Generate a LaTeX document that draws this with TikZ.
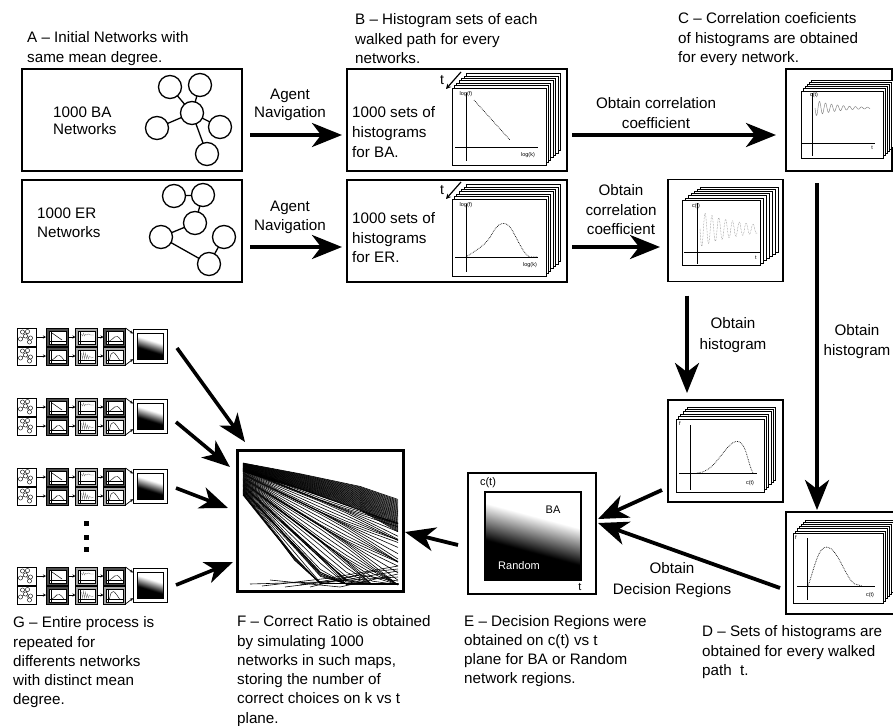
\documentclass[tikz,border=0pt]{standalone}
\usepackage{fontspec}
\setmainfont{Liberation Sans}
\usetikzlibrary{arrows.meta,calc}
\pgfdeclareverticalshading{decreg}{100bp}{color(0bp)=(black); color(41bp)=(black); color(61bp)=(white); color(100bp)=(white)}
\tikzset{
  mbox/.style={draw, line width=2pt, fill=white, inner sep=0pt, outer sep=0pt},
  bigarr/.style={line width=3.8pt, -{Stealth[length=30pt,width=24pt,inset=9pt]}},
  garr/.style={line width=3.6pt, -{Stealth[length=28pt,width=22pt,inset=8pt]}},
  panel/.style={draw, fill=white, line width=0.7pt},
  ax/.style={line width=0.9pt},
  dcurve/.style={densely dotted, line width=0.7pt},
  lbl/.style={font=\fontsize{15.2}{19.5}\selectfont, inner sep=0pt},
  tinyl/.style={font=\fontsize{5.5}{6}\selectfont, inner sep=0pt},
  smalll/.style={font=\fontsize{11}{13}\selectfont, inner sep=0pt},
  netc/.style={draw, fill=white, line width=1.3pt},
  nete/.style={line width=1.3pt},
  fline/.style={line width=0.6pt},
  tnet/.style={draw, fill=white, line width=0.8pt, minimum width=19pt, minimum height=18pt, inner sep=0pt, outer sep=0pt},
  thb/.style={draw, fill=black!70, line width=0.6pt, minimum width=22pt, minimum height=18pt, inner sep=0pt, outer sep=0pt},
  thc/.style={draw, fill=black!35, line width=0.6pt, minimum width=22pt, minimum height=18pt, inner sep=0pt, outer sep=0pt},
  the/.style={draw, fill=white, line width=0.6pt, minimum size=34pt, inner sep=0pt, outer sep=0pt},
  tarr/.style={line width=0.7pt, -{Stealth[length=3pt,width=3pt]}},
}
% stacked panels: x1 y1 x2 y2 n dx dy
\newcommand\hstack[7]{%
  \foreach \k in {#5,...,1}{%
    \draw[panel] ({#1+\k*#6},{#2-\k*#7}) rectangle ({#3+\k*#6},{#4-\k*#7});
  }%
  \draw[panel, line width=1pt] (#1,#2) rectangle (#3,#4);
}
\newcommand\minet{%
  \draw[line width=0.4pt] (-4,-5)--(-1,-1)--(-6,2) (-1,-1)--(4,1) (-1,-1)--(3,5) (1,-5.5)--(-1,-1);
  \foreach \a/\b in {-4/-5, 1/-5.5, -1/-1, -6/2, 4/1, 3/5}
    \draw[line width=0.4pt, fill=white] (\a,\b) circle[radius=2.1pt];
}
\newcommand\minipanel{%
  \draw[line width=0.4pt, fill=white] (-8,-6) rectangle (9,7);
  \draw[line width=0.5pt] (-6,-5)--(-6,7) (-8,4.5)--(9,4.5);
}
\newcommand\thumbrow[2]{%
  \node[tnet] (#1na) at (26.5,{#2+9}) {};
  \node[tnet] (#1nb) at (26.5,{#2+28}) {};
  \node[thb] (#1ba) at (57,{#2+9}) {};
  \node[thb] (#1bb) at (57,{#2+28}) {};
  \node[thc] (#1ca) at (86.5,{#2+9}) {};
  \node[thc] (#1cb) at (86.5,{#2+28}) {};
  \node[thb] (#1da) at (114.5,{#2+9}) {};
  \node[thc] (#1db) at (114.5,{#2+28}) {};
  \node[the] (#1e) at (150,{#2+18}) {};
  \begin{scope}[shift={(26.5,{#2+9})}]\minet\end{scope}
  \begin{scope}[shift={(26.5,{#2+28})}]\minet\end{scope}
  \begin{scope}[shift={(57,{#2+9})}]\minipanel
    \draw[line width=0.5pt] (-5,-4)--(5,3);\end{scope}
  \begin{scope}[shift={(57,{#2+28})}]\minipanel
    \draw[line width=0.4pt] (-5,4) .. controls (-1,3) and (0,-6) .. (7,4);\end{scope}
  \begin{scope}[shift={(86.5,{#2+9})}]\minipanel
    \draw[line width=0.3pt, gray] (-5,-3)--(-4,-1)--(-3,-4)--(-2,-1)--(-1,-3)--(0,-2)--(2,-3)--(4,-2)--(7,-2);\end{scope}
  \begin{scope}[shift={(86.5,{#2+28})}]\minipanel
    \draw[line width=0.3pt, gray] (-5,-3)--(-4,3)--(-3,-4)--(-2,3)--(-1,-3)--(0,3)--(1,-1)--(2,3)--(3,0)--(5,2)--(7,1);\end{scope}
  \begin{scope}[shift={(114.5,{#2+9})}]\minipanel
    \draw[line width=0.4pt] (-5,4) .. controls (-1,3) and (1,-6) .. (7,4);\end{scope}
  \begin{scope}[shift={(114.5,{#2+28})}]\minipanel
    \draw[line width=0.4pt] (-5,4) .. controls (-3,-8) and (0,-4) .. (5,4);\end{scope}
  \begin{scope}[shift={(150,{#2+18})}]
    \shade[shading=decreg, shading angle=-17] (-13,-13) rectangle (13,13);
    \draw[line width=0.9pt] (-13,-13) rectangle (13,13);
  \end{scope}
  \draw[tarr] (#1na) -- (#1ba);
  \draw[tarr] (#1nb) -- (#1bb);
  \draw[tarr] (#1ba) -- (#1ca);
  \draw[tarr] (#1bb) -- (#1cb);
  \draw[tarr] (#1ca) -- (#1da);
  \draw[tarr] (#1cb) -- (#1db);
  \draw[tarr] (#1da.north east) -- (#1e);
  \draw[tarr] (#1db.south east) -- (#1e);
}
\begin{document}
\begin{tikzpicture}[x=1pt,y=-1pt]
\useasboundingbox (0,0) rectangle (893,725);
\clip (0,0) rectangle (893,725);
\fill[white] (0,0) rectangle (893,725);

% ---------- main boxes
\node[mbox, minimum width=220pt, minimum height=102pt] (aBA) at (132,120) {};
\node[mbox, minimum width=220pt, minimum height=102pt] (aER) at (132,230.5) {};
\node[mbox, minimum width=220pt, minimum height=102pt] (bBA) at (457,120) {};
\node[mbox, minimum width=220pt, minimum height=102pt] (bER) at (457,230.5) {};
\node[mbox, line width=1.5pt, minimum width=106pt, minimum height=102pt] (cBA) at (839,120) {};
\node[mbox, line width=1.5pt, minimum width=115pt, minimum height=102pt] (cER) at (725.5,230.5) {};
\node[mbox, line width=1.5pt, minimum width=115pt, minimum height=102pt] (mid) at (725.5,451) {};
\node[mbox, line width=1.5pt, minimum width=120pt, minimum height=102pt] (dBox) at (846,563) {};
\node[mbox, line width=1.5pt, minimum width=128pt, minimum height=121pt] (eBox) at (532,533.5) {};
\node[mbox, line width=3pt, minimum width=166pt, minimum height=141pt] (fBox) at (320,520.5) {};

% ---------- A networks
\draw[nete] (170,87)--(192,113) (200,85)--(192,113) (192,113)--(157,128) (192,113)--(220,127) (192,113)--(207,154);
\foreach \a/\b in {170/87, 200/85, 192/113, 157/128, 220/127, 207/154}
  \draw[netc] (\a,\b) circle[radius=11.5pt];
\draw[nete] (174,196)--(203,195)--(195,223)--(161,237)--(209,264)--(224,237);
\foreach \a/\b in {174/196, 203/195, 195/223, 161/237, 224/237, 209/264}
  \draw[netc] (\a,\b) circle[radius=11.5pt];

% ---------- B stacks
\hstack{452}{88}{546}{165}{6}{2.4}{2.4}
\draw[ax] (466,93)--(466,161) (455,147)--(538,147);
\node[tinyl] (lf1) at (466,94) {log(f)};
\node[tinyl] (lk1) at (528,155) {log(k)};
\draw[dcurve] (474,100)--(510,140);
\node[lbl, font=\fontsize{14}{14}\selectfont] (t1) at (442,80) {t};
\draw[line width=1.2pt, -{Stealth[length=5pt,width=5pt]}] (461,72)--(446,89);

\hstack{452}{199}{546}{276}{6}{2.4}{2.4}
\draw[ax] (466,204)--(466,272) (455,257)--(538,257);
\node[tinyl] (lf2) at (466,205) {log(f)};
\node[tinyl] (lk2) at (530,265) {log(k)};
\draw[dcurve] (466,257) .. controls (478,249) and (486,245) .. (492,234) .. controls (497,224) and (505,218) .. (512,230) .. controls (520,244) and (524,255) .. (530,257) -- (538,257);
\node[lbl, font=\fontsize{14}{14}\selectfont] (t2) at (442,190) {t};
\draw[line width=1.2pt, -{Stealth[length=5pt,width=5pt]}] (461,182)--(446,199);

% ---------- C stacks
\hstack{801}{91}{883}{158}{5}{2}{2.2}
\draw[ax] (812,93)--(812,156) (802,143)--(875,143);
\node[tinyl] (lc1) at (814,95) {c(t)};
\node[tinyl] (lt1) at (872,148) {t};
\draw[gray, line width=0.45pt] plot[domain=0:1, samples=140] ({815+55*\x}, {108+8*exp(-2.4*\x)*sin(3300*\x)});

\hstack{682}{200}{760}{265}{6}{3}{2.1}
\draw[ax] (697,203)--(697,264) (684,252)--(760,252);
\node[tinyl] (lc2) at (696,206) {c(t)};
\node[tinyl] (lt2) at (756,258) {t};
\draw[gray, dcurve, line width=0.5pt] plot[domain=0:1, samples=200] ({700+57*\x}, {229+18*exp(-1.4*\x)*sin(3000*\x)});

% ---------- mid and D stacks
\hstack{676}{419}{764}{492}{5}{2.3}{2.4}
\draw[ax] (690,425)--(690,490) (679,473)--(757,473);
\node[tinyl] (lf3) at (680,424) {f};
\node[tinyl] (lc3) at (750,483) {c(t)};
\draw[dcurve] (697,473) .. controls (712,472) and (718,458) .. (728,447) .. controls (736,438) and (742,440) .. (746,452) .. controls (749,462) and (751,470) .. (753,473);

\hstack{793}{533}{883}{603}{6}{2.1}{2.1}
\draw[ax] (807,538)--(807,600) (797,586)--(875,586);
\node[tinyl] (lf4) at (796,538) {f};
\node[tinyl] (lc4) at (870,595) {c(t)};
\draw[dcurve] (808,586) .. controls (814,570) and (818,546) .. (827,547) .. controls (838,548) and (846,580) .. (855,584) -- (862,586);

% ---------- E decision regions
\shade[shading=decreg, shading angle=-15] (485,492) rectangle (581,580);
\draw[line width=1.5pt] (485,492) rectangle (581,580);
\node[smalll] (ect) at (488,483) {c(t)};
\node[smalll] (eba) at (553,510) {BA};
\node[smalll, text=white] (erand) at (519,566) {Random};
\node[smalll] (et) at (580,587) {t};

% ---------- F correct ratio
\begin{scope}
\clip (240,453) rectangle (400,588);
\foreach \i in {0,...,34}{
  \pgfmathsetmacro\yo{463+0.25*\i}
  \pgfmathsetmacro\s{0.235+0.0045*\i}
  \draw[fline] (243,\yo) -- (300,{\yo+57*\s*0.8}) -- (360,{\yo+117*\s*0.85}) -- (398,{\yo+155*\s});
}
\foreach \i in {0,...,52}{
  \pgfmathsetmacro\yo{468+0.52*\i}
  \pgfmathsetmacro\s{0.36+0.95*(\i/52)^1.3}
  \pgfmathsetmacro\c{0.07*sin(47*\i)}
  \draw[fline] plot[domain=243:398, samples=7] (\x, {min(586-0.05*\i, \yo+\s*(\x-243)*(1+\c*sin(1.5*(\x-243))))});
}
\draw[fline] (262,586)--(330,578)--(398,566);
\draw[fline] (285,587)--(350,579)--(398,571);
\draw[fline] (250,584)--(320,582)--(398,577);
\draw[fline] (300,585)--(360,575)--(398,581);
\draw[fline] (270,580)--(340,587)--(398,574);
\draw[fline] (310,587)--(370,572)--(398,569);
\end{scope}

% ---------- G thumbnails
\thumbrow{ga}{328}
\thumbrow{gb}{398}
\thumbrow{gc}{468}
\thumbrow{gd}{567}
\fill (83.5,520.5) rectangle (88.5,525.5);
\fill (83.5,534.5) rectangle (88.5,539.5);
\fill (83.5,546.5) rectangle (88.5,551.5);

% ---------- arrows
\draw[bigarr] ($(aBA.east)+(8,15)$) -- ($(bBA.west)+(-5,15)$);
\draw[bigarr] ($(aER.east)+(8,16.5)$) -- ($(bER.west)+(-5,16.5)$);
\draw[bigarr] ($(bBA.east)+(5,15)$) -- ($(cBA.west)+(-10,15)$);
\draw[bigarr] ($(bER.east)+(5,16.5)$) -- ($(cER.west)+(-8,16.5)$);
\draw[bigarr] ($(cBA.south)+(-22,12)$) -- ($(dBox.north)+(-29,-2)$);
\draw[bigarr] ($(cER.south)+(-38.5,14)$) -- ($(mid.north)+(-38.5,-7)$);
\draw[bigarr] ($(mid.west)+(-6,39)$) -- ($(eBox.east)+(2,-14.5)$);
\draw[bigarr] ($(dBox.west)+(-6,25)$) -- ($(eBox.east)+(2,-10.5)$);
\draw[bigarr] ($(eBox.west)+(-10,11.5)$) -- ($(fBox.east)+(2,11.5)$);
\draw[garr] ($(gae.east)+(10,2)$) -- ($(fBox.north west)+(8,-8)$);
\draw[garr] ($(gbe.east)+(9,6)$) -- ($(fBox.west)+(-7,-53.5)$);
\draw[garr] ($(gce.east)+(9,2)$) -- ($(fBox.west)+(-9,-12.5)$);
\draw[garr] ($(gde.east)+(9,0)$) -- ($(fBox.west)+(-4,41.5)$);

% ---------- texts
\node[lbl, align=left, anchor=north west, font=\fontsize{15.2}{20}\selectfont] (tA) at (27,31.5) {A – Initial Networks with\\same mean degree.};
\node[lbl, align=left, anchor=north west, font=\fontsize{15.2}{17.6}\selectfont] (tABA) at (53,106.5) {1000 BA\\Networks};
\node[lbl, align=left, anchor=north west, font=\fontsize{15.2}{19}\selectfont] (tAER) at (37,207.5) {1000 ER\\Networks};
\node[lbl, align=center, anchor=north, font=\fontsize{15.2}{18}\selectfont] (nav1) at (290,88.5) {Agent\\Navigation};
\node[lbl, align=center, anchor=north, font=\fontsize{15.2}{19}\selectfont] (nav2) at (290,200.5) {Agent\\Navigation};
\node[lbl, align=left, anchor=north west] (tB) at (355,13.5) {B – Histogram sets of each\\walked path for every\\networks.};
\node[lbl, align=left, anchor=north west, font=\fontsize{15.2}{19.7}\selectfont] (tBBA) at (352,106.5) {1000 sets of\\histograms\\for BA.};
\node[lbl, align=left, anchor=north west] (tBER) at (352,212.5) {1000 sets of\\histograms\\for ER.};
\node[lbl, align=center, anchor=north] (cor1) at (656,97.5) {Obtain correlation\\coefficient};
\node[lbl, align=center, anchor=north] (cor2) at (621,184.5) {Obtain\\correlation\\coefficient};
\node[lbl, align=left, anchor=north west] (tC) at (678,12.5) {C – Correlation coeficients\\of histograms are obtained\\for every network.};
\node[lbl, align=center, anchor=north, font=\fontsize{15.2}{20.5}\selectfont] (hist1) at (733,317.5) {Obtain\\histogram};
\node[lbl, align=center, anchor=north] (hist2) at (857,324.5) {Obtain\\histogram};
\node[lbl, align=center, anchor=north, font=\fontsize{15.2}{21}\selectfont] (dec) at (672,562.5) {Obtain\\Decision Regions};
\node[lbl, align=left, anchor=north west] (tD) at (702,625.5) {D – Sets of histograms are\\obtained for every walked\\path\ \ t.};
\node[lbl, align=left, anchor=north west, font=\fontsize{15.2}{19}\selectfont] (tE) at (464,615.5) {E – Decision Regions were\\obtained on c(t) vs t\\plane for BA or Random\\network regions.};
\node[lbl, align=left, anchor=north west, font=\fontsize{15.2}{19.3}\selectfont] (tF) at (237,615.5) {F – Correct Ratio is obtained\\by simulating 1000\\networks in such maps,\\storing the number of\\correct choices on k vs t\\plane.};
\node[lbl, align=left, anchor=north west, font=\fontsize{15.2}{19.3}\selectfont] (tG) at (13,616.5) {G – Entire process is\\repeated for\\differents networks\\with distinct mean\\degree.};
\end{tikzpicture}
\end{document}
